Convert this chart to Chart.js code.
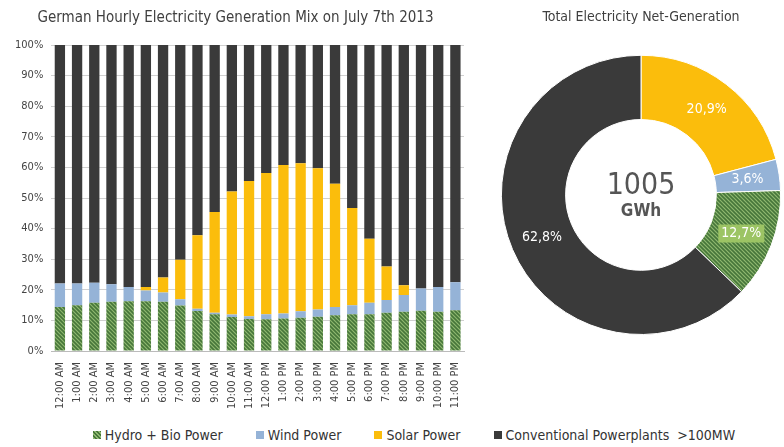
<!DOCTYPE html>
<html>
<head>
<meta charset="utf-8">
<script src="https://cdn.jsdelivr.net/npm/chart.js@4.4.1/dist/chart.umd.min.js"></script>
<style>
  body { margin: 0; background: #fff; width: 784px; height: 447px; position: relative; overflow: hidden;
         font-family: "Liberation Sans Narrow", "DejaVu Sans Condensed", sans-serif; }
  #barBox { position: absolute; left: 0; top: 0; width: 472px; height: 412px; }
  #pieBox { position: absolute; left: 482px; top: 0; width: 302px; height: 342px; }
  #legend { position: absolute; left: 0; top: 427px; width: 784px; display: flex; justify-content: center;
            gap: 33px; font-size: 14px; color: #333; padding-left: 44px; box-sizing: border-box; }
  #legend span.item { display: flex; align-items: center; }
  #legend i { display: inline-block; width: 8px; height: 8px; margin-right: 4px; }
</style>
</head>
<body>
<div id="barBox"><canvas id="barChart"></canvas></div>
<div id="pieBox"><canvas id="pieChart"></canvas></div>
<div id="legend">
  <span class="item"><i style="background: repeating-linear-gradient(45deg, #8fb870 0 1.5px, #46763a 1.5px 3px);"></i>Hydro + Bio Power</span>
  <span class="item"><i style="background:#95b3d7"></i>Wind Power</span>
  <span class="item"><i style="background:#fbbd0c"></i>Solar Power</span>
  <span class="item"><i style="background:#3a3a3a"></i>Conventional Powerplants&nbsp;&nbsp;&gt;100MW</span>
</div>
<script>
// horas del día
const hours = ["12:00 AM", "1:00 AM", "2:00 AM", "3:00 AM", "4:00 AM", "5:00 AM", "6:00 AM", "7:00 AM",
  "8:00 AM", "9:00 AM", "10:00 AM", "11:00 AM", "12:00 PM", "1:00 PM", "2:00 PM", "3:00 PM", "4:00 PM",
  "5:00 PM", "6:00 PM", "7:00 PM", "8:00 PM", "9:00 PM", "10:00 PM", "11:00 PM"];

// porcentajes por hora
const hydroBio = [14.4, 15.0, 15.8, 16.1, 16.3, 16.3, 16.1, 14.9, 13.1, 12.0, 11.1, 10.5,
  10.4, 10.6, 10.9, 11.2, 11.7, 12.0, 12.0, 12.5, 12.8, 13.2, 12.8, 13.3];
const wind = [7.7, 7.1, 6.5, 5.7, 4.6, 3.5, 3.0, 2.0, 0.7, 0.5, 0.8, 0.9,
  1.6, 1.7, 2.1, 2.4, 2.7, 3.0, 3.8, 4.2, 5.5, 7.2, 8.1, 9.2];
const solar = [0, 0, 0, 0, 0, 1.1, 4.9, 12.9, 24.0, 32.9, 40.2, 44.2,
  46.2, 48.5, 48.4, 46.1, 40.3, 31.7, 20.9, 10.9, 3.2, 0, 0, 0];
const conventional = [77.9, 77.9, 77.7, 78.2, 79.1, 79.1, 76.0, 70.2, 62.2, 54.6, 47.9, 44.4,
  41.8, 39.2, 38.6, 40.3, 45.3, 53.3, 63.3, 72.4, 78.5, 79.6, 79.1, 77.5];

// total del día
const totalLabels = ["Solar Power", "Wind Power", "Hydro + Bio Power", "Conventional Powerplants >100MW"];
const totalShares = [20.9, 3.6, 12.7, 62.8];
const totalText = ["20,9%", "3,6%", "12,7%", "62,8%"];
const totalGWh = "1005";

const fontName = "'Liberation Sans Narrow', 'DejaVu Sans Condensed', sans-serif";

// rayado verde para hidro + bio
function makeHatch() {
  const c = document.createElement("canvas");
  c.width = 4; c.height = 4;
  const g = c.getContext("2d");
  g.fillStyle = "#8fb870";
  g.fillRect(0, 0, 4, 4);
  g.strokeStyle = "#46763a";
  g.lineWidth = 1.6;
  g.beginPath();
  g.moveTo(-1, -1); g.lineTo(5, 5);
  g.moveTo(-1, 3); g.lineTo(1, 5);
  g.moveTo(3, -1); g.lineTo(5, 1);
  g.stroke();
  return g.createPattern(c, "repeat");
}
const hatch = makeHatch();

new Chart(document.getElementById("barChart"), {
  type: "bar",
  data: {
    labels: hours,
    datasets: [
      { label: "Hydro + Bio Power", data: hydroBio, backgroundColor: hatch },
      { label: "Wind Power", data: wind, backgroundColor: "#95b3d7" },
      { label: "Solar Power", data: solar, backgroundColor: "#fbbd0c" },
      { label: "Conventional Powerplants >100MW", data: conventional, backgroundColor: "#3a3a3a" },
    ],
  },
  options: {
    responsive: true,
    maintainAspectRatio: false,
    animation: false,
    layout: { padding: { left: 7, right: 8, top: 0, bottom: 0 } },
    datasets: { bar: { barPercentage: 0.6, categoryPercentage: 1.0 } },
    plugins: {
      legend: { display: false },
      tooltip: { enabled: false },
      title: {
        display: true,
        text: "German Hourly Electricity Generation Mix on July 7th 2013",
        color: "#3f3f3f",
        font: { family: fontName, size: 15, weight: "normal" },
        padding: { top: 9, bottom: 18 },
      },
    },
    scales: {
      x: {
        stacked: true,
        grid: { display: false },
        border: { color: "#bbb" },
        ticks: { color: "#444", font: { family: fontName, size: 11 }, minRotation: 90, maxRotation: 90, autoSkip: false, padding: 3 },
      },
      y: {
        stacked: true,
        min: 0,
        max: 100,
        grid: { color: "#d0d0d0", drawTicks: false },
        border: { display: false },
        ticks: { stepSize: 10, color: "#444", padding: 8, font: { family: fontName, size: 11 }, callback: (v) => v + "%" },
      },
    },
  },
});

// etiquetas dentro del anillo y texto central
const ringLabels = {
  id: "ringLabels",
  afterDatasetsDraw(chart) {
    const ctx = chart.ctx;
    const meta = chart.getDatasetMeta(0);
    ctx.save();
    ctx.textAlign = "center";
    ctx.textBaseline = "middle";
    ctx.font = "14px " + fontName;
    meta.data.forEach((arc, i) => {
      const p = arc.tooltipPosition();
      const t = totalText[i];
      if (i === 2) {
        const w = ctx.measureText(t).width + 6;
        ctx.fillStyle = "#9cc464";
        ctx.fillRect(p.x - w / 2, p.y - 9, w, 18);
      }
      ctx.fillStyle = "#fff";
      ctx.fillText(t, p.x, p.y);
    });
    const cx = meta.data[0].x, cy = meta.data[0].y;
    ctx.fillStyle = "#555";
    ctx.font = "30px " + fontName;
    ctx.fillText(totalGWh, cx, cy - 9);
    ctx.font = "bold 17px " + fontName;
    ctx.fillText("GWh", cx, cy + 17);
    ctx.restore();
  },
};

new Chart(document.getElementById("pieChart"), {
  type: "doughnut",
  data: {
    labels: totalLabels,
    datasets: [{
      data: totalShares,
      backgroundColor: ["#fbbd0c", "#95b3d7", hatch, "#3a3a3a"],
      borderColor: "#fff",
      borderWidth: 1,
    }],
  },
  options: {
    responsive: true,
    maintainAspectRatio: false,
    animation: false,
    cutout: "54%",
    layout: { padding: { left: 16, right: 0, top: 0, bottom: 7 } },
    plugins: {
      legend: { display: false },
      tooltip: { enabled: false },
      title: {
        display: true,
        text: "Total Electricity Net-Generation",
        color: "#3f3f3f",
        font: { family: fontName, size: 14, weight: "normal" },
        padding: { top: 9, bottom: 29 },
      },
    },
  },
  plugins: [ringLabels],
});
</script>
</body>
</html>
